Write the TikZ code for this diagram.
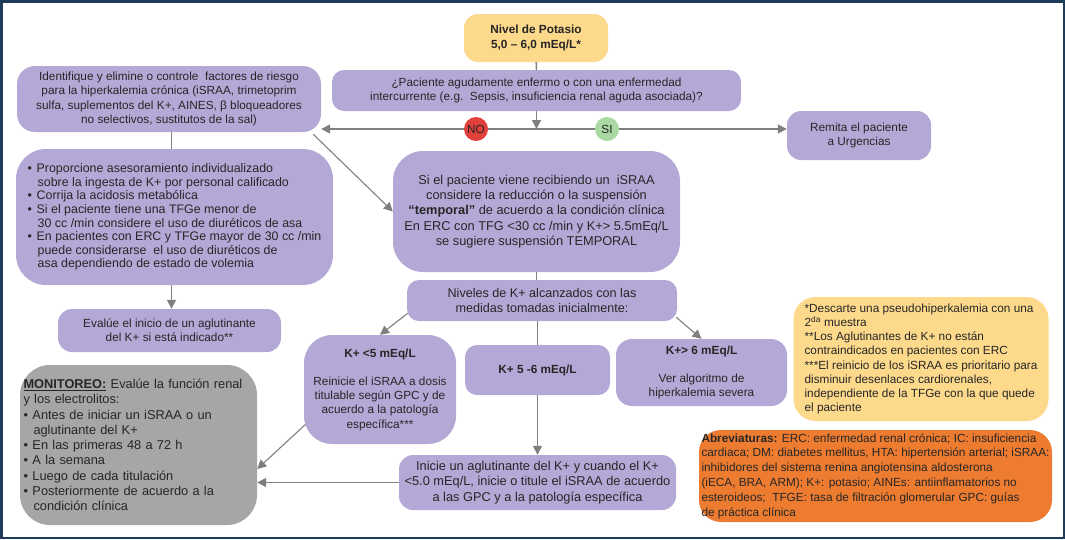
\documentclass[tikz,border=0pt]{standalone}
\usepackage{fontspec}
\setmainfont{Liberation Sans}
\usepackage{xcolor}
\usetikzlibrary{arrows.meta,positioning,calc,backgrounds}
\definecolor{lila}{HTML}{B4A9D6}
\definecolor{amar}{HTML}{FDD98C}
\definecolor{naranja}{HTML}{EE7C30}
\definecolor{gris}{HTML}{A6A6A6}
\definecolor{flecha}{HTML}{7F7F7F}
\definecolor{rojo}{HTML}{E2403A}
\definecolor{verde}{HTML}{A9D8A2}
\definecolor{marco}{HTML}{1E3B5A}
\definecolor{texto}{HTML}{262626}
\newcommand{\fs}{\fontsize{11.8}{14.2}\selectfont}
\newcommand{\fsg}{\fontsize{12.8}{15.3}\selectfont}
\newcommand{\bl}{\makebox[9pt][l]{\textbullet}}
\newcommand{\sg}{\hspace*{10pt}}

\begin{document}
\begin{tikzpicture}[x=1pt,y=-1pt,
      caja/.style={fill=lila, rounded corners=12pt, inner sep=0pt,
                   font=\fs, text=texto, align=center},
      cajaam/.style={caja, fill=amar},
      cajagris/.style={caja, fill=gris, rounded corners=30pt},
      cajanar/.style={caja, fill=naranja, rounded corners=22pt},
      circ/.style={circle, minimum size=24pt, inner sep=0pt, font=\fs, text=texto},
      lin/.style={line width=1.5pt, draw=flecha},
      arr/.style={-{Triangle[length=9pt,width=9pt]}, lin},
      arrd/.style={arr, line width=1.1pt}
  ]
    \useasboundingbox (0,0) rectangle (1065,539);
    \draw[marco, line width=2.5pt] (1.25,1.25) rectangle (1063.75,537.75);

    % fila superior
    \node[cajaam, minimum width=144pt, minimum height=48pt, rounded corners=14pt] (pot) at (536,38)
      {\textbf{Nivel de Potasio}\\\textbf{5,0 – 6,0 mEq/L*}};
    \node[caja, minimum width=409pt, minimum height=41pt] (preg) at (536.5,90.5)
      {¿Paciente agudamente enfermo o con una enfermedad\\intercurrente (e.g.\ \ Sepsis, insuficiencia renal aguda asociada)?};
    \node[caja, minimum width=304pt, minimum height=66pt, rounded corners=18pt] (ident) at (169,99)
      {Identifique y elimine o controle\ \ factores de riesgo\\para la hiperkalemia crónica (iSRAA, trimetoprim\\sulfa, suplementos del K+, AINES, β bloqueadores\\no selectivos, sustitutos de la sal)};
    \node[caja, minimum width=144pt, minimum height=49pt, rounded corners=14pt] (rem) at (859,135.5)
      {Remita el paciente\\a Urgencias};
    \node[circ, fill=rojo] (no) at (476,129) {NO};
    \node[circ, fill=verde] (si) at (607,129) {SI};

    % bloque central
    \node[caja, minimum width=317pt, minimum height=136pt, rounded corners=30pt, align=left,
          font=\fontsize{12.4}{13.6}\selectfont] (prop) at (174.5,217)
      {\bl Proporcione asesoramiento individualizado\\
       \sg sobre la ingesta de K+ por personal calificado\\
       \bl Corrija la acidosis metabólica\\
       \bl Si el paciente tiene una TFGe menor de\\
       \sg 30 cc /min considere el uso de diuréticos de asa\\
       \bl En pacientes con ERC y TFGe mayor de 30 cc /min\\
       \sg puede considerarse\ \ el uso de diuréticos de\\
       \sg asa dependiendo de estado de volemia};
    \node[caja, minimum width=287pt, minimum height=121pt, rounded corners=30pt, font=\fsg] (sip) at (536.5,211.5)
      {Si el paciente viene recibiendo un\ \ iSRAA\\considere la reducción o la suspensión\\\textbf{“temporal”} de acuerdo a la condición clínica\\En ERC con TFG <30 cc /min y K+> 5.5mEq/L\\se sugiere suspensión TEMPORAL};
    \node[caja, minimum width=270pt, minimum height=41pt, font=\fontsize{12.6}{15}\selectfont] (niv) at (542,300.5)
      {Niveles de K+ alcanzados con las\\medidas tomadas inicialmente:};
    \node[caja, minimum width=223pt, minimum height=43pt, rounded corners=14pt] (eval) at (169.5,330.5)
      {Evalúe el inicio de un aglutinante\\del K+ si está indicado**};

    % niveles de K+
    \node[caja, minimum width=152pt, minimum height=109pt, rounded corners=28pt] (k5) at (380,389.5)
      {\textbf{K+ <5 mEq/L}\\[14.2pt]Reinicie el iSRAA a dosis\\titulable según GPC y de\\acuerdo a la patología\\específica***};
    \node[caja, minimum width=145pt, minimum height=50pt] (k56) at (537.5,370)
      {\textbf{K+ 5 -6 mEq/L}};
    \node[caja, minimum width=171pt, minimum height=67pt, rounded corners=16pt] (k6) at (701.5,372.5)
      {\textbf{K+> 6 mEq/L}\\[14.2pt]Ver algoritmo de\\hiperkalemia severa};
    \node[caja, minimum width=277pt, minimum height=55pt, rounded corners=14pt, font=\fsg] (inic) at (537.5,482.5)
      {Inicie un aglutinante del K+ y cuando el K+\\<5.0 mEq/L, inicie o titule el iSRAA de acuerdo\\a las GPC y a la patología específica};
    \node[cajagris, minimum width=237pt, minimum height=160pt, align=left, font=\fsg,
          text width=230pt, inner xsep=3.5pt] (mon) at (138.5,445)
      {\underline{\textbf{MONITOREO:}} Evalúe la función renal\\
       y los electrolitos:\\
       \bl Antes de iniciar un iSRAA o un\\
       \sg aglutinante del K+\\
       \bl En las primeras 48 a 72 h\\
       \bl A la semana\\
       \bl Luego de cada titulación\\
       \bl Posteriormente de acuerdo a la\\
       \sg condición clínica};

    % notas
    \node[cajaam, minimum width=255pt, minimum height=124pt, rounded corners=22pt, align=left] (notas) at (921,359)
      {*Descarte una pseudohiperkalemia con una\\
       2\textsuperscript{da} muestra\\
       **Los Aglutinantes de K+ no están\\
       contraindicados en pacientes con ERC\\
       ***El reinicio de los iSRAA es prioritario para\\
       disminuir desenlaces cardiorenales,\\
       independiente de la TFGe con la que quede\\
       el paciente};
    \node[cajanar, minimum width=353pt, minimum height=92pt, align=left,
          font=\fontsize{11.8}{14.8}\selectfont] (abrev) at (875.5,476)
      {\textbf{Abreviaturas:} ERC: enfermedad renal crónica; IC: insuficiencia\\
       cardiaca; DM: diabetes mellitus, HTA: hipertensión arterial; iSRAA:\\
       inhibidores del sistema renina angiotensina aldosterona\\
       (iECA, BRA, ARM); K+: potasio; AINEs: antiinflamatorios no\\
       esteroideos;\ \ TFGE: tasa de filtración glomerular GPC: guías\\
       de práctica clínica};

    % conectores
    \begin{scope}[on background layer]
      \draw[lin] (pot) -- (preg);
      \draw[arr] (preg.south) -- (preg.south |- no);
      \draw[arr] (no) -- (no -| ident.east);
      \draw[lin] (no) -- (si);
      \draw[arr] (si) -- (si -| rem.west);
      \draw[lin] (ident.south -| 171.5,0) -- (prop.north -| 171.5,0);
      \draw[arrd] ($(ident.south east)+(-8,2)$) -- (sip.west);
      \draw[arr] (prop.south -| 171.5,0) -- (eval.north -| 171.5,0);
      \draw[lin] (sip.south) -- (sip.south |- niv.north);
      \draw[arrd] ($(niv.south west)+(1,-8)$) -- (k5.north);
      \draw[arrd] ($(niv.south east)+(-1,-4)$) -- (k6.north);
      \draw[lin] (k56.north |- niv.south) -- (k56.north);
      \draw[arr] (k56.south) -- (k56.south |- inic.north);
      \draw[arrd] ($(k5.south west)+(3,-21)$) -- ($(mon.east)+(0,24)$);
      \draw[arr] (inic.west) -- (inic.west -| mon.east);
    \end{scope}
  \end{tikzpicture}
\end{document}
